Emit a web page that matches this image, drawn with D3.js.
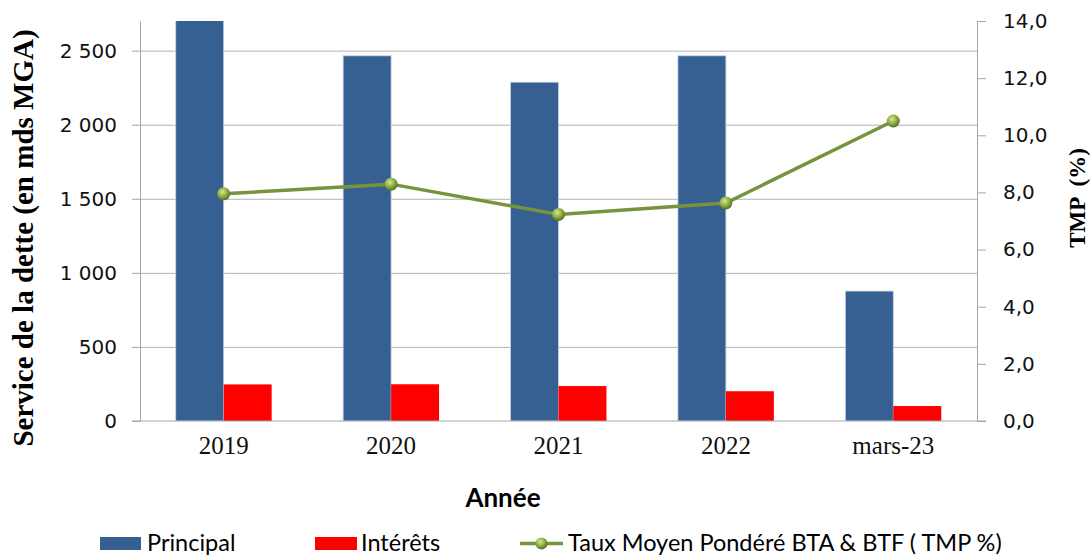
<html>

<head>
    <script src="https://d3js.org/d3.v7.min.js"></script>
    <style>
        body {
            margin: 0;
            background: #fff;
        }

        .gridlines line {
            stroke: #b3b3b3;
        }

        .gridlines .domain {
            stroke: none;
        }

        .axis .domain,
        .axis line {
            stroke: #a6a6a6;
        }

        .axis text {
            font-family: "DejaVu Sans", Verdana, sans-serif;
            font-size: 20px;
            fill: #111;
        }

        .x.axis text {
            font-family: "Liberation Serif", "Times New Roman", serif;
            font-size: 25px;
        }
    </style>
</head>

<body>
    <svg height="555" width="1090"></svg>

    <script>
        // values
        const categories = ["2019", "2020", "2021", "2022", "mars-23"];
        const principal = [2780, 2465, 2287, 2465, 877];
        const interets = [247, 248, 236, 201, 101];
        const tmp = [7.95, 8.29, 7.23, 7.63, 10.5];
        const leftTicks = [0, 500, 1000, 1500, 2000, 2500];
        const rightTicks = [0, 2, 4, 6, 8, 10, 12, 14];
        const seriesNames = ["Principal", "Intérêts"];

        const svg = d3.select("svg");
        const margins = { top: 21, right: 113, bottom: 134, left: 140 };
        const chartWidth = svg.attr("width") - margins.left - margins.right;
        const chartHeight = svg.attr("height") - margins.top - margins.bottom;

        const locale = d3.formatLocale({ decimal: ",", thousands: "\u00a0", grouping: [3], currency: ["", ""] });
        const fmtLeft = locale.format(",d");
        const fmtRight = locale.format(".1f");

        const xScale = d3.scaleBand().domain(categories).range([0, chartWidth]);
        const subScale = d3.scaleBand().domain(seriesNames)
            .range([0, xScale.bandwidth()]).paddingOuter(0.745);
        const yScale = d3.scaleLinear().domain([0, 2700]).range([chartHeight, 0]);
        const yRight = d3.scaleLinear().domain([0, 14]).range([chartHeight, 0]);

        const chartArea = svg.append("g")
            .attr("transform", `translate(${margins.left},${margins.top})`);

        svg.append("defs").append("clipPath").attr("id", "plotClip")
            .append("rect").attr("width", chartWidth).attr("height", chartHeight);

        const grad = svg.select("defs").append("radialGradient")
            .attr("id", "ball").attr("cx", "40%").attr("cy", "35%").attr("r", "65%");
        grad.append("stop").attr("offset", "0%").attr("stop-color", "#d4ea8c");
        grad.append("stop").attr("offset", "55%").attr("stop-color", "#8fae45");
        grad.append("stop").attr("offset", "100%").attr("stop-color", "#566f22");

        // gridlines
        chartArea.append("g")
            .attr("class", "gridlines")
            .call(d3.axisLeft(yScale).tickValues(leftTicks.slice(1)).tickFormat("").tickSize(-chartWidth));

        // bars
        const bars = chartArea.append("g").attr("clip-path", "url(#plotClip)");
        categories.forEach((c, i) => {
            bars.append("rect")
                .attr("x", xScale(c) + subScale("Principal"))
                .attr("y", yScale(principal[i]))
                .attr("width", subScale.bandwidth())
                .attr("height", chartHeight - yScale(principal[i]))
                .attr("fill", "#366092")
                .attr("stroke", "#c5d3e6")
                .attr("stroke-width", 0.8);
            bars.append("rect")
                .attr("x", xScale(c) + subScale("Intérêts"))
                .attr("y", yScale(interets[i]))
                .attr("width", subScale.bandwidth())
                .attr("height", chartHeight - yScale(interets[i]))
                .attr("fill", "#ff0000");
        });

        // axes
        chartArea.append("g")
            .attr("class", "y axis")
            .call(d3.axisLeft(yScale).tickValues(leftTicks).tickFormat(fmtLeft).tickSize(8).tickSizeOuter(0).tickPadding(15));

        chartArea.append("g")
            .attr("class", "y2 axis")
            .attr("transform", `translate(${chartWidth},0)`)
            .call(d3.axisRight(yRight).tickValues(rightTicks).tickFormat(fmtRight).tickSize(9).tickSizeOuter(0).tickPadding(17));

        chartArea.append("line")
            .attr("x1", -8).attr("x2", chartWidth + 9)
            .attr("y1", chartHeight).attr("y2", chartHeight)
            .attr("stroke", "#a6a6a6");

        chartArea.append("g")
            .attr("class", "x axis")
            .attr("transform", `translate(0,${chartHeight})`)
            .call(d3.axisBottom(xScale).tickSize(0).tickPadding(15))
            .call(g => g.select(".domain").remove());

        // TMP line
        const line = d3.line()
            .x((d, i) => xScale(categories[i]) + xScale.bandwidth() / 2)
            .y(d => yRight(d));

        chartArea.append("path")
            .datum(tmp)
            .attr("d", line)
            .attr("fill", "none")
            .attr("stroke", "#77933c")
            .attr("stroke-width", 3.5);

        tmp.forEach((d, i) => {
            chartArea.append("circle")
                .attr("cx", xScale(categories[i]) + xScale.bandwidth() / 2)
                .attr("cy", yRight(d))
                .attr("r", 6.5)
                .attr("fill", "url(#ball)");
        });

        // titles
        svg.append("text")
            .attr("transform", `translate(33,238) rotate(-90)`)
            .attr("text-anchor", "middle")
            .style("font-family", "'Liberation Serif', serif")
            .style("font-weight", "bold")
            .style("font-size", "29px")
            .text("Service de la dette (en mds MGA)");

        svg.append("text")
            .attr("transform", `translate(1085,198) rotate(-90)`)
            .attr("text-anchor", "middle")
            .style("font-family", "'Liberation Serif', serif")
            .style("font-weight", "bold")
            .style("font-size", "23px")
            .style("white-space", "pre")
            .text("TMP  (%)");

        svg.append("text")
            .attr("x", 503).attr("y", 507)
            .attr("text-anchor", "middle")
            .style("font-family", "Lato, sans-serif")
            .style("font-weight", "bold")
            .style("font-size", "26px")
            .text("Année");

        // legend
        const legend = svg.append("g")
            .style("font-family", "Lato, sans-serif")
            .style("font-size", "23.5px");

        legend.append("rect").attr("x", 100).attr("y", 537).attr("width", 41).attr("height", 13).attr("fill", "#366092");
        legend.append("text").attr("x", 147).attr("y", 551).text("Principal");

        legend.append("rect").attr("x", 315).attr("y", 537).attr("width", 42).attr("height", 13).attr("fill", "#ff0000");
        legend.append("text").attr("x", 361).attr("y", 551).text("Intérêts");

        legend.append("line").attr("x1", 520).attr("x2", 563).attr("y1", 543.5).attr("y2", 543.5)
            .attr("stroke", "#77933c").attr("stroke-width", 3.5);
        legend.append("circle").attr("cx", 541.5).attr("cy", 543.5).attr("r", 6).attr("fill", "url(#ball)");
        legend.append("text").attr("x", 568).attr("y", 551).text("Taux Moyen Pondéré BTA & BTF ( TMP %)");
    </script>
</body>

</html>
